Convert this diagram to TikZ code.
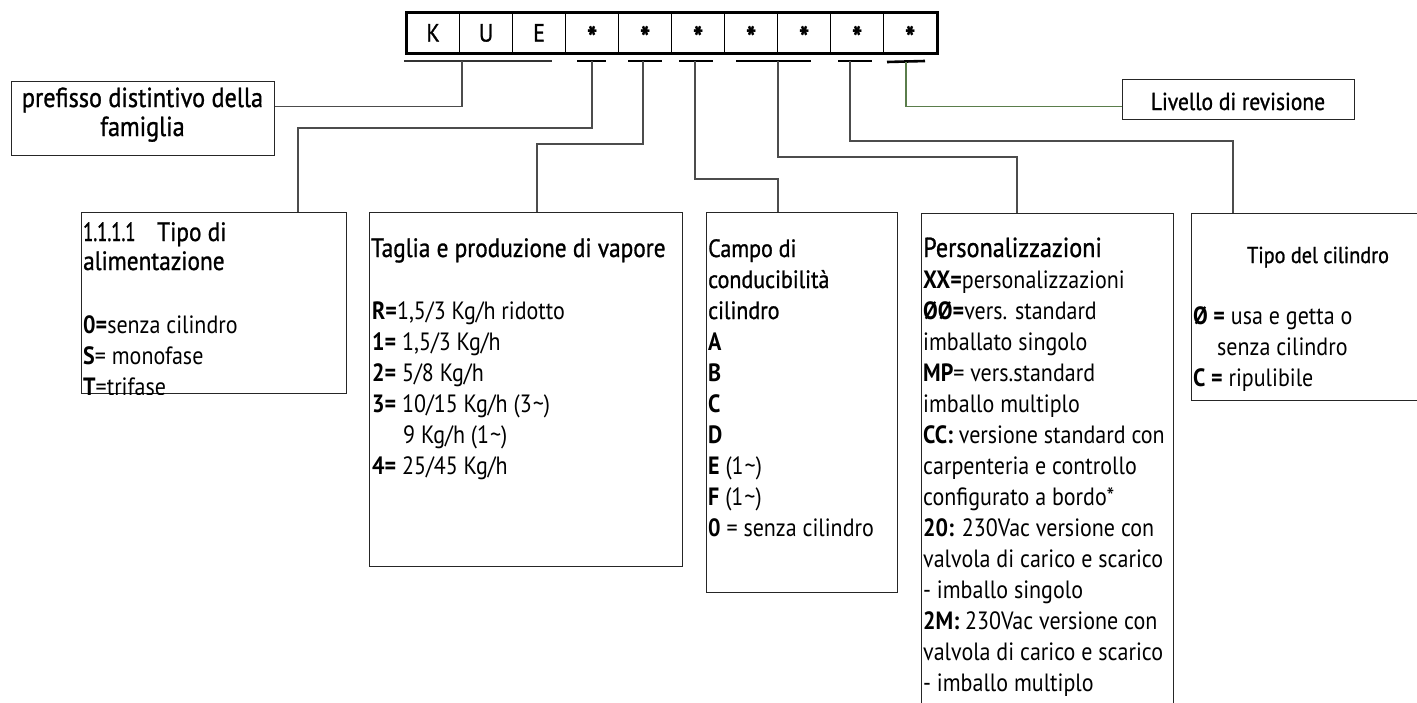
\documentclass[tikz,border=0pt]{standalone}
\usepackage{fontspec}
\setmainfont{PT Sans}[FakeStretch=0.88]
\newfontfamily\hdfont{PT Sans}[FakeStretch=0.88, FakeBold=1]
\newfontfamily\numfont{PT Sans}[FakeStretch=0.7, FakeBold=1]
\definecolor{lvgreen}{RGB}{90,125,75}
\tikzset{
  frame/.style={draw=black!85, line width=1.2pt, inner sep=0pt, anchor=north west},
  conn/.style={draw=black!70, line width=1.1pt},
  uline/.style={line width=2.6pt, black},
  cell/.style={draw, line width=1.2pt, minimum width=53pt, minimum height=40pt, inner sep=0pt, anchor=north west, text height=18pt, text depth=0pt, font=\hdfont\fontsize{25}{30}\selectfont},
  ln/.style={anchor=base west, inner sep=0pt, font=\fontsize{25}{30}\selectfont},
  lc/.style={anchor=base, inner sep=0pt, font=\fontsize{25}{30}\selectfont},
  hd/.style={anchor=base west, inner sep=0pt, font=\hdfont\fontsize{25}{30}\selectfont},
}
\newcommand{\cstar}{\raisebox{-7pt}{\fontsize{31}{30}\selectfont\bfseries *}}
\begin{document}
\begin{tikzpicture}[x=1pt,y=-1pt]
\useasboundingbox (0,0) rectangle (1417,702);
\fill[white] (0,0) rectangle (1417,702);
% code cells
\foreach \t [count=\i] in {K,U,E,\cstar,\cstar,\cstar,\cstar,\cstar,\cstar,\cstar}
  \node[cell] (c\i) at ({406+53*(\i-1)},12) {\t};
\draw[line width=3pt] (c1.north west) rectangle (c10.south east);
% underlines
\draw[line width=1.6pt, black!80] (404,61) -- (552,61);
\draw[uline] (577,61) -- (606,61);
\draw[line width=2pt] (628,61) -- (662,61);
\draw[line width=2pt] (679,61) -- (713,61);
\draw[uline] (736,61) -- (811,61);
\draw[uline] (838,61) -- (872,61);
\draw[uline] (887,62) -- (925,61);
\coordinate (v1) at (462,61);
\coordinate (v2) at (592,61);
\coordinate (v3) at (643,61);
\coordinate (v4) at (695,61);
\coordinate (v5) at (778,61);
\coordinate (v6) at (850,61);
\coordinate (v7) at (906,62);
\coordinate (k2) at (298,128);
\coordinate (k3) at (537,144);
\coordinate (k4) at (778,179);
\coordinate (k5) at (1017,157);
\coordinate (k6) at (1233,141);
% boxes
\node[frame, minimum width=263pt, minimum height=74pt] (pref) at (11,81) {};
\node[frame, minimum width=232pt, minimum height=40pt] (lv) at (1122,79) {};
\node[frame, minimum width=265pt, minimum height=181pt] (b1) at (81,212) {};
\node[frame, minimum width=313pt, minimum height=354pt] (b2) at (369,212) {};
\node[frame, minimum width=191pt, minimum height=380pt] (b3) at (706,212) {};
\node[frame, minimum width=252pt, minimum height=500pt] (b4) at (921,213) {};
\node[frame, minimum width=254pt, minimum height=187pt] (b5) at (1191,213) {};
% connectors
\draw[conn] (v1) |- ([yshift=12pt]pref.east);
\draw[conn] (v2) |- (k2) -- (k2 |- b1.north);
\draw[conn] (v3) |- (k3) -- (k3 |- b2.north);
\draw[conn] (v4) |- (k4) -- (k4 |- b3.north);
\draw[conn] (v5) |- (k5) -- (k5 |- b4.north);
\draw[conn] (v6) |- (k6) -- (k6 |- b5.north);
\draw[conn, draw=lvgreen] (v7) |- ([yshift=-7pt]lv.west);
% texts
\node[lc, font=\hdfont\fontsize{27.5}{32}\selectfont] (p1) at (142.5,107) {prefisso distintivo della};
\node[lc, font=\hdfont\fontsize{27.5}{32}\selectfont] (p2) at (142.5,136) {famiglia};
\node[lc, font=\hdfont\fontsize{24.5}{30}\selectfont] (lvt) at (1238,110) {Livello di revisione};
\begin{scope}
\clip (b1.north west) rectangle (b1.south east);
\node[hd, font=\numfont\fontsize{26.5}{32}\selectfont] (t11a) at (83,241) {1.1.1.1};
\node[hd, font=\hdfont\fontsize{26.5}{32}\selectfont] (t11b) at (157,241) {Tipo di};
\node[hd, font=\hdfont\fontsize{26.5}{32}\selectfont] (t12) at (83,270) {alimentazione};
\node[ln] (t13) at (83,333) {\textbf{0=}senza cilindro};
\node[ln] (t14) at (83,364) {\textbf{S}= monofase};
\node[ln] (t15) at (83,395) {\textbf{T}=trifase};
\end{scope}
\node[hd, font=\hdfont\fontsize{26.5}{30}\selectfont] (t21) at (371,257) {Taglia e produzione di vapore};
\node[ln] (t22) at (372,319) {\textbf{R=}1,5/3 Kg/h ridotto};
\node[ln] (t23) at (372,350) {\textbf{1=} 1,5/3 Kg/h};
\node[ln] (t24) at (372,381) {\textbf{2=} 5/8 Kg/h};
\node[ln] (t25) at (372,412) {\textbf{3=} 10/15 Kg/h (3\kern1pt\textasciitilde)};
\node[ln] (t26) at (403,443) {9 Kg/h (1\kern1pt\textasciitilde)};
\node[ln] (t27) at (372,474) {\textbf{4=} 25/45 Kg/h};
\node[hd] (t31) at (708,257) {Campo di};
\node[hd] (t32) at (708,288) {conducibilità};
\node[hd] (t33) at (708,319) {cilindro};
\node[ln] (t34) at (708,350) {\textbf{A}};
\node[ln] (t35) at (708,381) {\textbf{B}};
\node[ln] (t36) at (708,412) {\textbf{C}};
\node[ln] (t37) at (708,443) {\textbf{D}};
\node[ln] (t38) at (708,474) {\textbf{E} (1\kern1pt\textasciitilde)};
\node[ln] (t39) at (708,505) {\textbf{F} (1\kern1pt\textasciitilde)};
\node[ln] (t310) at (708,536) {\textbf{0} = senza cilindro};
\node[hd, font=\hdfont\fontsize{27.5}{30}\selectfont] (t41) at (923,257) {Personalizzazioni};
\node[ln] (t42) at (923,288) {\textbf{XX=}personalizzazioni};
\node[ln] (t43) at (923,319) {\textbf{ØØ=}vers. standard};
\node[ln] (t44) at (923,350) {imballato singolo};
\node[ln] (t45) at (923,381) {\textbf{MP}= vers.standard};
\node[ln] (t46) at (923,412) {imballo multiplo};
\node[ln] (t47) at (923,443) {\textbf{CC:} versione standard con};
\node[ln] (t48) at (923,474) {carpenteria e controllo};
\node[ln] (t49) at (923,505) {configurato a bordo*};
\node[ln] (t410) at (923,536) {\textbf{20:} 230Vac versione con};
\node[ln] (t411) at (923,567) {valvola di carico e scarico};
\node[ln] (t412) at (923,598) {- imballo singolo};
\node[ln] (t413) at (923,629) {\textbf{2M:} 230Vac versione con};
\node[ln] (t414) at (923,660) {valvola di carico e scarico};
\node[ln] (t415) at (923,691) {- imballo multiplo};
\node[lc, font=\hdfont\fontsize{23}{30}\selectfont] (t51) at (1318,263) {Tipo del cilindro};
\node[ln] (t52) at (1193,324) {\textbf{Ø =} usa e getta o};
\node[ln] (t53) at (1217,355) {senza cilindro};
\node[ln] (t54) at (1193,386) {\textbf{C =} ripulibile};
\end{tikzpicture}
\end{document}
